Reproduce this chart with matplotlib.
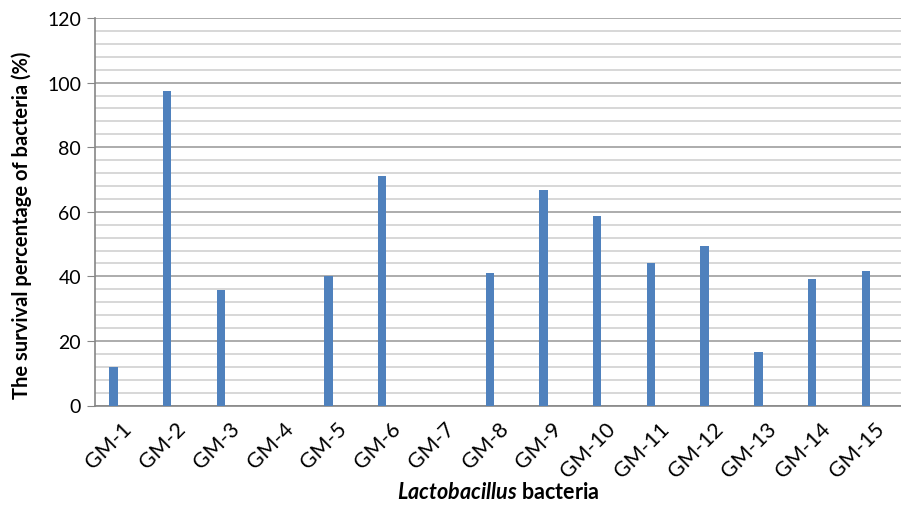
import matplotlib
matplotlib.use("Agg")
import matplotlib.pyplot as plt
from matplotlib.ticker import MultipleLocator

# survival values
strains = ["GM-1", "GM-2", "GM-3", "GM-4", "GM-5", "GM-6", "GM-7", "GM-8",
           "GM-9", "GM-10", "GM-11", "GM-12", "GM-13", "GM-14", "GM-15"]
survival = [12, 97.3, 35.8, 0, 40.2, 71.2, 0, 41, 66.7, 58.8, 44, 49.5, 16.7, 39.1, 41.6]

plt.rcParams['font.family'] = ['Lato', 'DejaVu Sans']
plt.rcParams['mathtext.fontset'] = 'custom'
plt.rcParams['mathtext.bfit'] = 'Lato:italic:bold'
plt.rcParams['mathtext.it'] = 'Lato:italic'
plt.rcParams['mathtext.rm'] = 'Lato'

fig = plt.figure(figsize=(9.01, 5.06), dpi=100)
ax = fig.add_axes([95 / 901, 99.5 / 506, 806 / 901, 387.5 / 506])

w = 0.155
x = list(range(len(strains)))
ax.bar([i - w for i in x], survival, width=w, color="#4F81BD", zorder=3)

ax.set_xlim(-0.5, len(strains) - 0.5)
ax.set_ylim(0, 120)
ax.yaxis.set_major_locator(MultipleLocator(20))
ax.yaxis.set_minor_locator(MultipleLocator(4))
ax.grid(axis='y', which='major', color="#A6A6A6", linewidth=1.3, zorder=0)
ax.grid(axis='y', which='minor', color="#D4D4D4", linewidth=1.3, zorder=0)

ax.set_xticks(x)
ax.set_xticklabels(strains, rotation=45, ha='right', rotation_mode='anchor', fontsize=15.5)
ax.tick_params(axis='x', length=0, pad=9)
ax.tick_params(axis='y', which='major', length=6, color="#868686", labelsize=14, pad=4)
ax.tick_params(axis='y', which='minor', length=0)

for s in ['top', 'right']:
    ax.spines[s].set_visible(False)
for s in ['left', 'bottom']:
    ax.spines[s].set_color("#868686")
    ax.spines[s].set_linewidth(1.2)

fig.text(22 / 901, 1 - 225 / 506, "The survival percentage of bacteria (%)",
         rotation=90, ha='center', va='center', fontsize=14.5, fontweight='bold')
fig.text(498 / 901, 1 - 493 / 506, r"$\mathbfit{Lactobacillus}$ bacteria",
         ha='center', va='center', fontsize=15.5, fontweight='bold')

fig.savefig("out.png", dpi=100)
